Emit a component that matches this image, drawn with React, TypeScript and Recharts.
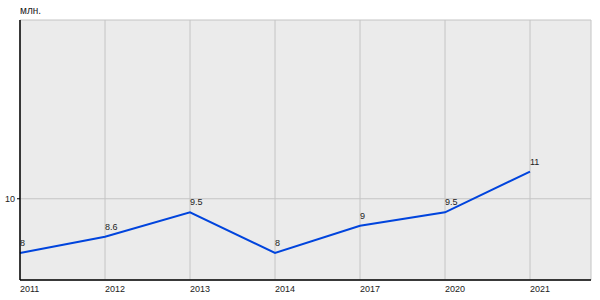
import { LineChart, Line, XAxis, YAxis, CartesianGrid, LabelList } from 'recharts';

const years = ['2011', '2012', '2013', '2014', '2017', '2020', '2021'];
const values = [8, 8.6, 9.5, 8, 9, 9.5, 11];
const labels = ['8', '8.6', '9.5', '8', '9', '9.5', '11'];
const yTicks = [10];

const data = years.map((year, i) => ({ year, value: values[i], label: labels[i] }));

const FONT = '"Liberation Sans", Arial, sans-serif';

const XTick = (props: any) => {
  const { x, y, payload } = props;
  return (
    <text x={x} y={y + 4} textAnchor="start" fontSize={9} fontFamily={FONT} fill="#222">
      {payload.value}
    </text>
  );
};

const PointLabel = (props: any) => {
  const { x, y, value } = props;
  return (
    <text x={x} y={y - 7} textAnchor="start" fontSize={9} fontFamily={FONT} fill="#222">
      {value}
    </text>
  );
};

export default function App() {
  return (
    <div style={{ position: 'absolute', left: 0, top: 0, width: 600, height: 300, background: '#fff' }}>
      <div
        style={{
          position: 'absolute',
          left: 20,
          top: 5,
          fontSize: 10,
          fontFamily: FONT,
          color: '#222',
        }}
      >
        млн.
      </div>
      <LineChart width={600} height={300} data={data} margin={{ top: 20, right: 9, bottom: 0, left: 0 }}>
        <CartesianGrid fill="#ebebeb" stroke="#c4c4c4" strokeWidth={1} />
        <XAxis
          dataKey="year"
          padding={{ left: 0, right: 61 }}
          axisLine={{ stroke: '#000', strokeWidth: 1.5 }}
          tickLine={false}
          tick={<XTick />}
          height={20}
          interval={0}
        />
        <YAxis
          type="number"
          domain={[7, 16.6]}
          ticks={yTicks}
          width={20}
          axisLine={{ stroke: '#000', strokeWidth: 1.5 }}
          tickSize={3}
          tickLine={{ stroke: '#000' }}
          tickMargin={2}
          tick={{ fontSize: 9, fontFamily: FONT, fill: '#222' }}
        />
        <Line
          type="linear"
          dataKey="value"
          stroke="#0044dd"
          strokeWidth={2}
          dot={false}
          activeDot={false}
          isAnimationActive={false}
        >
          <LabelList dataKey="label" content={<PointLabel />} />
        </Line>
      </LineChart>
    </div>
  );
}
